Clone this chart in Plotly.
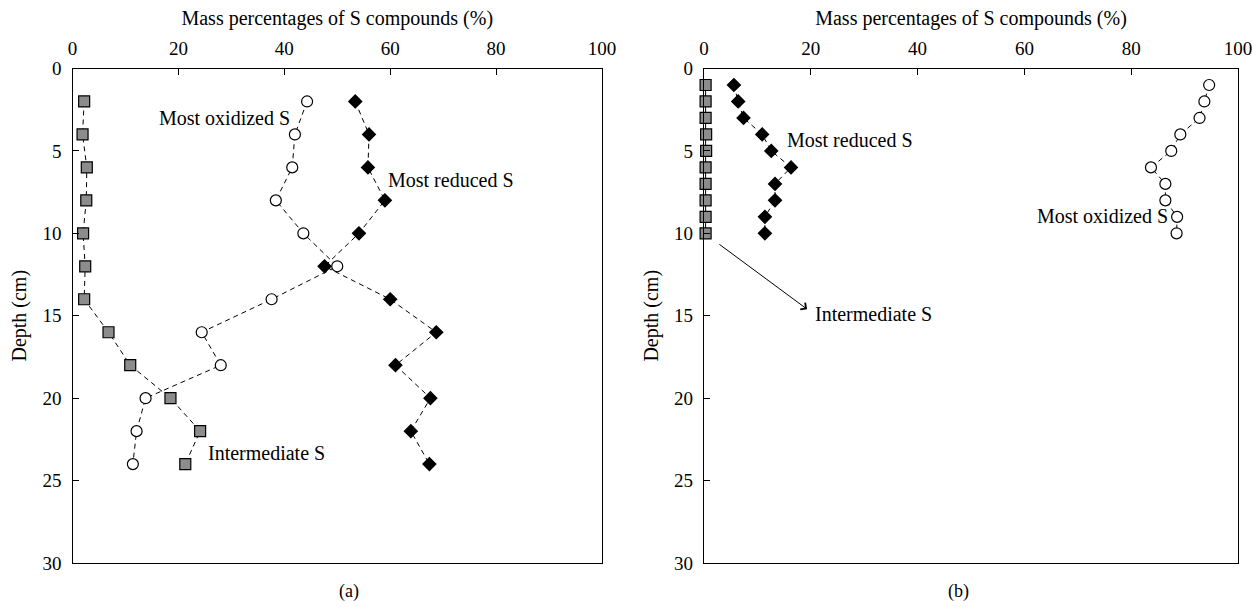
import plotly.graph_objects as go

# ---- Data: panel (a) ----
depth_a = [2, 4, 6, 8, 10, 12, 14, 16, 18, 20, 22, 24]
intermediate_a = [2.2, 1.9, 2.7, 2.6, 2.0, 2.4, 2.2, 6.8, 10.9, 18.5, 24.1, 21.3]
oxidized_a = [44.3, 42.0, 41.5, 38.4, 43.6, 50.0, 37.6, 24.4, 28.0, 13.8, 12.1, 11.4]
reduced_a = [53.4, 56.0, 55.8, 59.0, 54.1, 47.6, 60.0, 68.7, 61.0, 67.6, 63.9, 67.4]

# ---- Data: panel (b) ----
depth_b = [1, 2, 3, 4, 5, 6, 7, 8, 9, 10]
intermediate_b = [0.3, 0.3, 0.3, 0.4, 0.4, 0.3, 0.3, 0.3, 0.3, 0.3]
oxidized_b = [94.6, 93.7, 92.8, 89.2, 87.5, 83.7, 86.4, 86.4, 88.6, 88.5]
reduced_b = [5.6, 6.4, 7.4, 10.9, 12.6, 16.3, 13.3, 13.3, 11.4, 11.4]

x_ticks = [0, 20, 40, 60, 80, 100]
y_ticks = [0, 5, 10, 15, 20, 25, 30]

FONT = "Liberation Serif"
DASH = "5px,4px"
TICK_SIZE = 19
TEXT_SIZE = 20

fig = go.Figure()

def add_series(x, y, xa, ya, symbol, fill, size, dash=DASH):
    fig.add_trace(go.Scatter(
        x=x, y=y, xaxis=xa, yaxis=ya, mode="lines+markers",
        line=dict(color="black", width=1, dash=dash),
        marker=dict(symbol=symbol, size=size, color=fill,
                    line=dict(color="black", width=1.2)),
        showlegend=False, hoverinfo="skip", cliponaxis=False))

# panel a
add_series(intermediate_a, depth_a, "x", "y", "square", "#8c8c8c", 11)
add_series(oxidized_a, depth_a, "x", "y", "circle", "white", 11)
add_series(reduced_a, depth_a, "x", "y", "diamond", "black", 10)
# panel b
add_series(intermediate_b, depth_b, "x2", "y2", "square", "#8c8c8c", 11, dash="solid")
add_series(reduced_b, depth_b, "x2", "y2", "diamond", "black", 10)
add_series(oxidized_b, depth_b, "x2", "y2", "circle", "white", 11)

tickfont = dict(family=FONT, size=TICK_SIZE, color="black")
titlefont = dict(family=FONT, size=TEXT_SIZE, color="black")

axis_common = dict(range=[0, 100], tickvals=x_ticks, side="top", ticks="inside",
                   ticklen=6, tickcolor="black", showline=True, linecolor="black",
                   linewidth=1.3, mirror=True, showgrid=False, zeroline=False,
                   tickfont=tickfont, ticklabelstandoff=5, automargin=False,
                   ticklabeloverflow="allow",
                   title=dict(text="Mass percentages of S compounds (%)",
                              font=titlefont, standoff=6))
yaxis_common = dict(range=[30, 0], tickvals=y_ticks, ticks="inside", ticklen=6,
                    tickcolor="black", showline=True, linecolor="black", linewidth=1.3,
                    mirror=True, showgrid=False, zeroline=False,
                    tickfont=tickfont, ticklabelstandoff=6, automargin=False,
                    title=dict(text="Depth (cm)", font=titlefont, standoff=10))

fig.update_layout(
    width=1252, height=607,
    margin=dict(l=0, r=0, t=0, b=0, autoexpand=False),
    paper_bgcolor="white", plot_bgcolor="white",
    xaxis=dict(domain=[72.5/1252, 602/1252], anchor="y", **axis_common),
    yaxis=dict(domain=[1-563/607, 1-68.5/607], anchor="x", **yaxis_common),
    xaxis2=dict(domain=[704/1252, 1238/1252], anchor="y2", **axis_common),
    yaxis2=dict(domain=[1-563/607, 1-68.5/607], anchor="x2", **yaxis_common),
)

tf = dict(family=FONT, size=TEXT_SIZE, color="black")
ann = [
    dict(x=41.4, y=3.0, xref="x", yref="y", text="Most oxidized S", xanchor="right", showarrow=False, font=tf),
    dict(x=59.2, y=6.75, xref="x", yref="y", text="Most reduced S", xanchor="left", showarrow=False, font=tf),
    dict(x=25.2, y=23.3, xref="x", yref="y", text="Intermediate S", xanchor="left", showarrow=False, font=tf),
    dict(x=15.2, y=4.33, xref="x2", yref="y2", text="Most reduced S", xanchor="left", showarrow=False, font=tf),
    dict(x=87.2, y=8.94, xref="x2", yref="y2", text="Most oxidized S", xanchor="right", showarrow=False, font=tf),
    dict(x=20.5, y=14.9, xref="x2", yref="y2", text="Intermediate S", xanchor="left", showarrow=False, font=tf),
    dict(x=19.3, y=14.6, xref="x2", yref="y2", ax=2.6, ay=10.6, axref="x2", ayref="y2",
         text="", showarrow=True, arrowhead=4, arrowsize=1.6, arrowwidth=1, arrowcolor="black"),
    dict(x=(72.5+602)/2/1252, y=1-591/607, xref="paper", yref="paper", text="(a)",
         yanchor="middle", showarrow=False, font=dict(family=FONT, size=18, color="black")),
    dict(x=(704+1238)/2/1252, y=1-591/607, xref="paper", yref="paper", text="(b)",
         yanchor="middle", showarrow=False, font=dict(family=FONT, size=18, color="black")),
]
fig.update_layout(annotations=ann)

fig.write_html(
    "out.html",
    config={"displayModeBar": False},
    post_script=("document.documentElement.style.overflow='hidden';"
                 "document.body.style.overflow='hidden';"
                 "document.body.style.margin='0px';"),
)
